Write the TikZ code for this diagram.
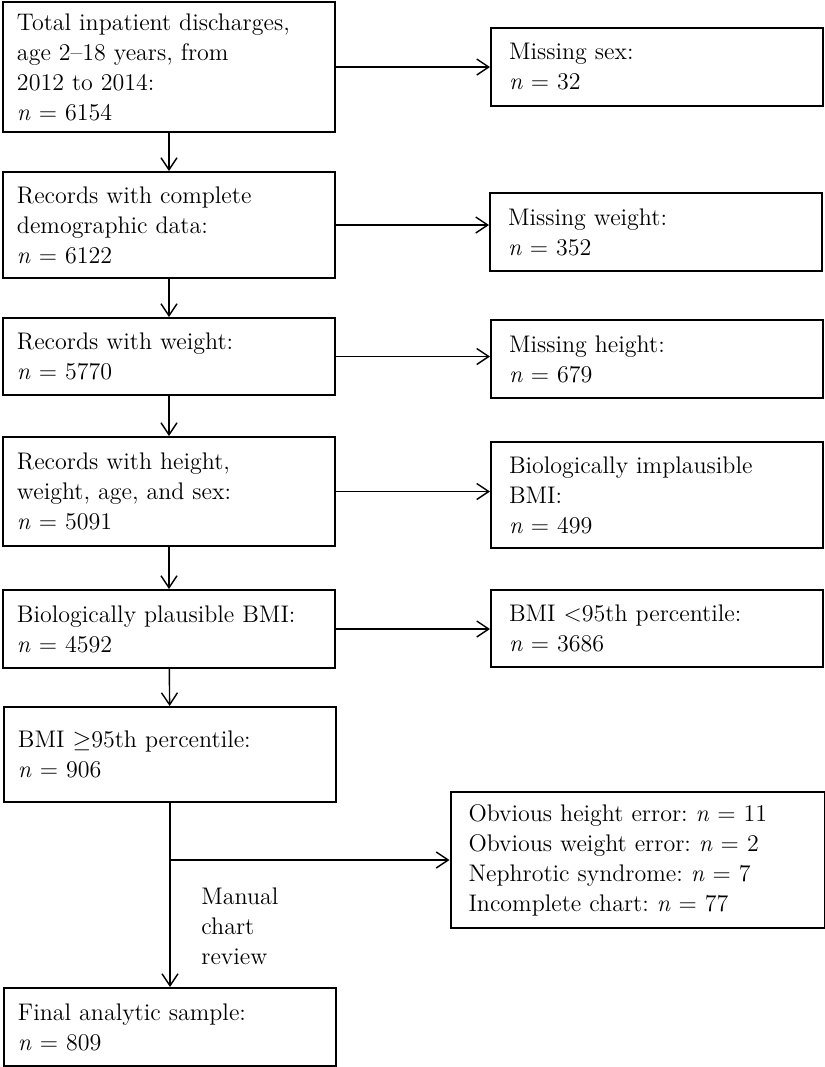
\documentclass[tikz,border=0pt]{standalone}
\usetikzlibrary{arrows.meta,positioning,calc}

\begin{document}
\frenchspacing
\begin{tikzpicture}[
    x=0.5pt, y=-0.5pt,
    font=\fontsize{12}{15}\selectfont,
    >={Straight Barb[length=6pt,width=8pt]},
    box/.style={draw, line width=1pt, text width=152pt, inner xsep=7pt, inner ysep=3pt, align=left},
    rbox/.style={box, text width=148pt, inner xsep=9pt},
    arrow/.style={->, line width=0.7pt}
]
    \useasboundingbox (0,0) rectangle (825,1067);

    % main column
    \node[box, minimum height=65pt] (total) at (169,67) {Total inpatient discharges,\\age 2--18 years, from\\2012 to 2014:\\\textit{n} = 6154};
    \node[box, minimum height=53pt] (demo) at (169,225) {Records with complete\\demographic data:\\\textit{n} = 6122};
    \node[box, minimum height=38.5pt] (weight) at (169,356.5) {Records with weight:\\\textit{n} = 5770};
    \node[box, minimum height=54.5pt] (hwas) at (169,491.5) {Records with height,\\weight, age, and sex:\\\textit{n} = 5091};
    \node[box, minimum height=39pt] (plaus) at (169,629) {Biologically plausible BMI:\\\textit{n} = 4592};
    \node[box, minimum height=47.5pt] (obese) at (170,754.5) {BMI $\geq$95th percentile:\\\textit{n} = 906};
    \node[box, minimum height=39pt] (final) at (170,1027) {Final analytic sample:\\\textit{n} = 809};

    % exclusions
    \node[rbox, minimum height=39pt] (sex) at (657,67) {Missing sex:\\\textit{n} = 32};
    \node[rbox, minimum height=39pt] (missw) at (656,232) {Missing weight:\\\textit{n} = 352};
    \node[rbox, minimum height=39pt] (missh) at (657,359) {Missing height:\\\textit{n} = 679};
    \node[rbox, minimum height=53pt] (implaus) at (657,495) {Biologically implausible\\BMI:\\\textit{n} = 499};
    \node[rbox, minimum height=38.5pt] (lt95) at (657,628.5) {BMI $<$95th percentile:\\\textit{n} = 3686};
    \node[box, text width=169pt, inner xsep=9pt, minimum height=68pt] (errors) at (637.5,860) {Obvious height error: \textit{n} = 11\\Obvious weight error: \textit{n} = 2\\Nephrotic syndrome: \textit{n} = 7\\Incomplete chart: \textit{n} = 77};

    \node[anchor=north west, align=left, inner sep=0pt] (review) at (201,887) {Manual\\chart\\review};

    \draw[arrow] (total) -- (demo);
    \draw[arrow] (demo) -- (weight);
    \draw[arrow] (weight) -- (hwas);
    \draw[arrow] (hwas) -- (plaus);
    \draw[arrow] (plaus) -- (obese);
    \draw[arrow] (obese.south) -- (final.north);

    \draw[arrow] (total.east) -- (total.east -| sex.west);
    \draw[arrow] (demo.east) -- (demo.east -| missw.west);
    \draw[arrow] (weight.east) -- (weight.east -| missh.west);
    \draw[arrow] (hwas.east) -- (hwas.east -| implaus.west);
    \draw[arrow] (plaus.east) -- (plaus.east -| lt95.west);

    \coordinate (branch) at (obese.south |- errors.west);
    \draw[arrow] (branch) -- (errors.west);
\end{tikzpicture}
\end{document}
